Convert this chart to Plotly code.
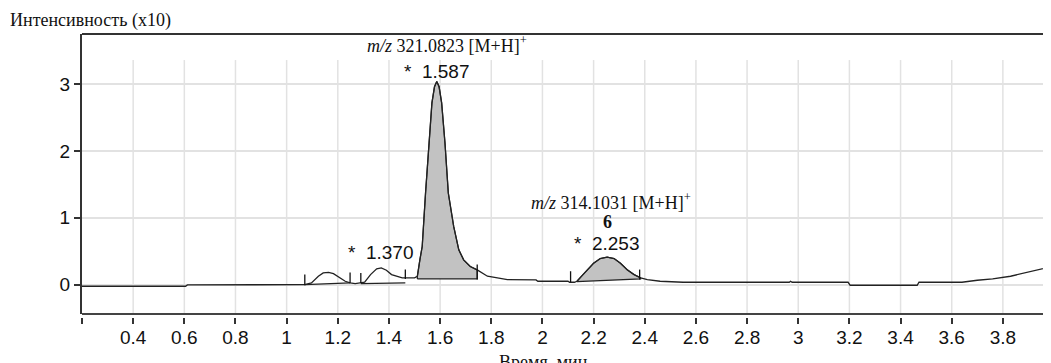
import plotly.graph_objects as go
import numpy as np

# ---- chromatogram (time in min, intensity x10) ----
time_min = [0.200, 0.605, 0.612, 1.065, 1.071, 1.097, 1.124, 1.143, 1.164, 1.183,
            1.203, 1.229, 1.248, 1.268, 1.287, 1.305, 1.328, 1.352, 1.370, 1.390,
            1.410, 1.432, 1.452, 1.500, 1.511, 1.521, 1.530, 1.543, 1.556, 1.568,
            1.578, 1.587, 1.596, 1.606, 1.619, 1.632, 1.653, 1.673, 1.692, 1.718,
            1.745, 1.785, 1.824, 1.863, 1.975, 1.982, 2.100, 2.106, 2.125, 2.135,
            2.154, 2.174, 2.200, 2.226, 2.253, 2.280, 2.305, 2.332, 2.358, 2.384,
            2.410, 2.460, 2.550, 2.965, 2.970, 2.976, 3.195, 3.203, 3.465, 3.472,
            3.640, 3.700, 3.760, 3.830, 3.910, 3.990]
intensity = [-0.025, -0.025, -0.005, -0.005, 0.000, 0.025, 0.124, 0.175, 0.184, 0.164,
             0.115, 0.050, 0.025, 0.015, 0.025, 0.035, 0.150, 0.235, 0.250, 0.215,
             0.150, 0.124, 0.100, 0.100, 0.125, 0.375, 0.570, 1.370, 2.120, 2.720,
             2.960, 3.040, 2.960, 2.720, 2.120, 1.370, 0.870, 0.520, 0.370, 0.270,
             0.220, 0.125, 0.100, 0.075, 0.070, 0.050, 0.050, 0.035, 0.035, 0.050,
             0.130, 0.220, 0.320, 0.390, 0.410, 0.390, 0.320, 0.220, 0.150, 0.100,
             0.075, 0.050, 0.035, 0.035, 0.050, 0.035, 0.035, -0.010, -0.010, 0.035,
             0.035, 0.065, 0.085, 0.125, 0.200, 0.270]

# shaded (identified) peaks: integration window and baseline
fill_start = [1.511, 2.135]
fill_end = [1.745, 2.384]
fill_base_start = [0.085, 0.045]
fill_base_end = [0.085, 0.085]

# unshaded peaks: integration baselines
base_x0 = [1.071, 1.290]
base_y0 = [0.000, 0.015]
base_x1 = [1.248, 1.464]
base_y1 = [0.025, 0.025]

# peak boundary markers
mark_t = [1.071, 1.248, 1.290, 1.464, 1.745, 2.110, 2.380]
mark_lo = [-0.010, 0.025, 0.025, 0.085, 0.075, 0.035, 0.075]
mark_hi = [0.150, 0.180, 0.175, 0.225, 0.300, 0.200, 0.225]

# peak labels
label_rt = [1.370, 1.587, 2.253]
label_h = [0.250, 3.040, 0.410]
label_txt = ["*\u00a0 1.370", "*\u00a0 1.587", "*\u00a0 2.253"]
mz_txt = ["<i>m/z</i> 321.0823 [M+H]<sup>+</sup>", "<i>m/z</i> 314.1031 [M+H]<sup>+</sup>"]

x_ticks = [0.2, 0.4, 0.6, 0.8, 1.0, 1.2, 1.4, 1.6, 1.8, 2.0, 2.2, 2.4, 2.6, 2.8,
           3.0, 3.2, 3.4, 3.6, 3.8]
x_ticktext = [" ", "0.4", "0.6", "0.8", "1", "1.2", "1.4", "1.6", "1.8", "2", "2.2",
              "2.4", "2.6", "2.8", "3", "3.2", "3.4", "3.6", "3.8"]
y_ticks = [0, 1, 2, 3]

# the page body offsets the figure by 8 px and limits it to 1035 px of width
L_MARGIN = 74
W, H = 1035, 355
PX_PER_MIN = 255.8
X_RANGE = [0.2, 0.2 + (W - L_MARGIN) / PX_PER_MIN]
Y_RANGE = [-0.44, 3.75]
GRID_TOP = 3.36

SANS = "Liberation Sans, Arial, sans-serif"
SERIF = "Liberation Serif, Times New Roman, serif"
INK = "#111111"

t = np.array(time_min)
v = np.array(intensity)

fig = go.Figure()

# shaded peaks
for s, e, b0, b1 in zip(fill_start, fill_end, fill_base_start, fill_base_end):
    m = (t > s) & (t < e)
    px = [s, s] + list(t[m]) + [e, e, s]
    py = [b0, float(np.interp(s, t, v))] + list(v[m]) + [float(np.interp(e, t, v)), b1, b0]
    fig.add_trace(go.Scatter(x=px, y=py, mode="lines", fill="toself",
                             fillcolor="#c2c2c2", line=dict(color="#222222", width=1.2),
                             hoverinfo="skip"))

# integration baselines of unshaded peaks
bx, by = [], []
for x0, y0, x1, y1 in zip(base_x0, base_y0, base_x1, base_y1):
    bx += [x0, x1, None]
    by += [y0, y1, None]
fig.add_trace(go.Scatter(x=bx, y=by, mode="lines", line=dict(color="#222222", width=1.2),
                         hoverinfo="skip"))

# chromatogram
fig.add_trace(go.Scatter(x=time_min, y=intensity, mode="lines",
                         line=dict(color="#222222", width=1.3)))

# boundary markers
mx, my = [], []
for tt, lo, hi in zip(mark_t, mark_lo, mark_hi):
    mx += [tt, tt, None]
    my += [lo, hi, None]
fig.add_trace(go.Scatter(x=mx, y=my, mode="lines", line=dict(color="#111111", width=1.3),
                         hoverinfo="skip"))

# vertical grid lines (stop short of the top frame)
shapes = []
for xt in x_ticks[1:]:
    shapes.append(dict(type="line", xref="x", yref="y", x0=xt, x1=xt,
                       y0=Y_RANGE[0], y1=GRID_TOP, layer="below",
                       line=dict(color="#e2e2e2", width=1.5)))
# frame: top and bottom lines
shapes.append(dict(type="line", xref="paper", yref="y domain", x0=0, x1=1, y0=1, y1=1,
                   line=dict(color="#333333", width=2)))
shapes.append(dict(type="line", xref="paper", yref="y domain", x0=0, x1=1, y0=0, y1=0,
                   line=dict(color="#444444", width=2)))

annotations = []
# retention-time labels
shifts = [15, 10, 14]
for rt, h, txt, ys in zip(label_rt, label_h, label_txt, shifts):
    annotations.append(dict(x=rt, y=h, xref="x", yref="y", text=txt, showarrow=False,
                            yanchor="middle", xanchor="center", yshift=ys,
                            font=dict(family=SANS, size=19, color=INK)))
# m/z labels
annotations.append(dict(x=label_rt[1], y=label_h[1], xref="x", yref="y", text=mz_txt[0],
                        showarrow=False, yanchor="middle", xshift=10, yshift=37,
                        font=dict(family=SERIF, size=18, color=INK)))
annotations.append(dict(x=label_rt[2], y=label_h[2], xref="x", yref="y", text=mz_txt[1],
                        showarrow=False, yanchor="middle", xshift=4, yshift=56,
                        font=dict(family=SERIF, size=18, color=INK)))
annotations.append(dict(x=label_rt[2], y=label_h[2], xref="x", yref="y", text="<b>6</b>",
                        showarrow=False, yanchor="middle", yshift=35,
                        font=dict(family=SERIF, size=18, color=INK)))
# x-axis title
annotations.append(dict(x=(543 - 82) / (W - L_MARGIN), y=-0.117, xref="paper", yref="paper",
                        text="Время, мин", showarrow=False, xanchor="center",
                        yanchor="top",
                        font=dict(family=SERIF, size=18, color=INK)))

fig.update_layout(
    width=W, height=H,
    margin=dict(l=L_MARGIN, r=0, t=26, b=46, autoexpand=False),
    paper_bgcolor="white", plot_bgcolor="white",
    showlegend=False,
    title=dict(text="Интенсивность (x10)", font=dict(family=SERIF, size=18, color=INK),
               xref="container", x=2 / W, xanchor="left",
               yref="container", y=1 - 12 / H, yanchor="middle"),
    xaxis=dict(range=X_RANGE, anchor="free", position=0, tickmode="array",
               tickvals=x_ticks, ticktext=x_ticktext, ticks="outside", ticklen=6,
               tickwidth=1.5, tickcolor="#333333", showline=False, showgrid=False,
               zeroline=False, ticklabelstandoff=-3,
               tickfont=dict(family=SANS, size=19, color=INK)),
    yaxis=dict(range=Y_RANGE, domain=[0.0106, 1], tickmode="array", tickvals=y_ticks,
               ticks="outside", ticklen=6, tickwidth=1.5, tickcolor="#333333",
               showline=True, linecolor="#333333", linewidth=2, showgrid=True,
               gridcolor="#e2e2e2", gridwidth=1.5, zeroline=False,
               tickfont=dict(family=SANS, size=19, color=INK)),
    shapes=shapes,
    annotations=annotations,
)

fig.write_html("out.html")
